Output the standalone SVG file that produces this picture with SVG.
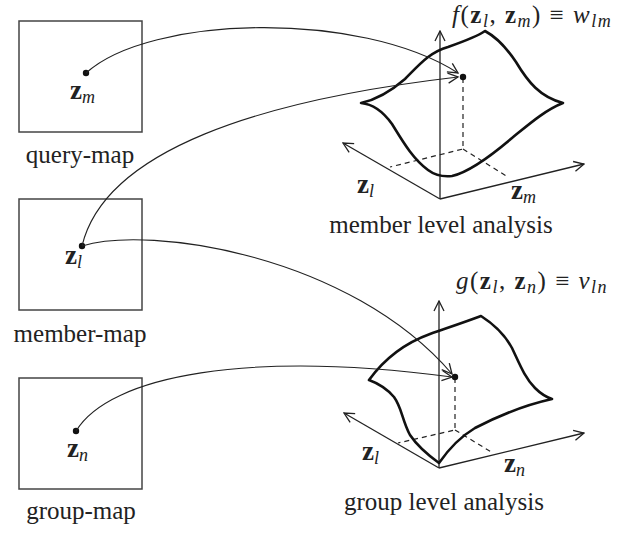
<svg xmlns="http://www.w3.org/2000/svg" width="631" height="534" viewBox="0 0 631 534">
<defs>
<style>
.box{fill:none;stroke:#444;stroke-width:1.5}
.lbl{font-family:"Liberation Serif",serif;font-size:25px;fill:#222}
.math{font-family:"Liberation Serif",serif;font-size:27px;fill:#222}
.fx{font-size:25px;letter-spacing:1.5px}
.bz{font-weight:bold}
.it{font-style:italic}
.sub{font-style:italic;font-size:18px}
.conn{fill:none;stroke:#222;stroke-width:1.1}
.axis{fill:none;stroke:#222;stroke-width:1.3}
.dash{fill:none;stroke:#222;stroke-width:1.2;stroke-dasharray:5,4}
.surf{fill:none;stroke:#111;stroke-width:2.6;stroke-linejoin:round}
</style>
<marker id="arr" viewBox="0 0 12 12" refX="11" refY="6" markerWidth="12" markerHeight="12" markerUnits="userSpaceOnUse" orient="auto">
<path d="M1,1 L11,6 L1,11" fill="none" stroke="#222" stroke-width="1.3"/>
</marker>
</defs>
<rect width="631" height="534" fill="#fff"/>

<g id="query-map">
<rect class="box" x="19" y="21" width="123" height="111"/>
<circle cx="86" cy="73" r="3.2" fill="#111"/>
<text class="math" x="70" y="99"><tspan class="bz">z</tspan><tspan class="sub" dy="4">m</tspan></text>
<text class="lbl" x="80" y="163" text-anchor="middle">query-map</text>
</g>

<g id="member-map">
<rect class="box" x="19" y="199" width="123" height="111"/>
<circle cx="82" cy="246" r="3.2" fill="#111"/>
<text class="math" x="65" y="264"><tspan class="bz">z</tspan><tspan class="sub" dy="4">l</tspan></text>
<text class="lbl" x="80" y="342" text-anchor="middle">member-map</text>
</g>

<g id="group-map">
<rect class="box" x="19" y="378" width="123" height="111"/>
<circle cx="76" cy="431" r="3.2" fill="#111"/>
<text class="math" x="67" y="457"><tspan class="bz">z</tspan><tspan class="sub" dy="4">n</tspan></text>
<text class="lbl" x="81" y="519" text-anchor="middle">group-map</text>
</g>

<g id="member-analysis">
<text class="math fx" x="452" y="23"><tspan class="it">f</tspan>(<tspan class="bz">z</tspan><tspan class="sub" dy="4">l</tspan><tspan dy="-4">, </tspan><tspan class="bz">z</tspan><tspan class="sub" dy="4">m</tspan><tspan dy="-4">) ≡ </tspan><tspan class="it">w</tspan><tspan class="sub" dy="4">lm</tspan></text>
<path class="axis" d="M440,199 L440,31" marker-end="url(#arr)"/>
<path class="axis" d="M440,199 L343,143" marker-end="url(#arr)"/>
<path class="axis" d="M440,199 L584,164" marker-end="url(#arr)"/>
<path class="dash" d="M463,78 L463,149 L390,167 M463,149 L508,177"/>
<path class="surf" d="M361,103 C375,100 390,92 405,79 C420,64 430,52 448,47 C465,41 478,36 485,31 C498,38 508,50 516,62 C528,82 540,97 563,103 C545,110 528,125 512,138 C492,155 470,172 452,176 C443,177 436,176 428,170 C412,158 402,140 392,124 C382,110 372,104 361,103 Z"/>
<circle cx="463" cy="77" r="3.2" fill="#111"/>
<text class="math" x="357" y="193"><tspan class="bz">z</tspan><tspan class="sub" dy="4">l</tspan></text>
<text class="math" x="511" y="199"><tspan class="bz">z</tspan><tspan class="sub" dy="4">m</tspan></text>
<text class="lbl" x="441" y="233" text-anchor="middle">member level analysis</text>
</g>

<g id="group-analysis">
<text class="math fx" x="456" y="289"><tspan class="it">g</tspan>(<tspan class="bz">z</tspan><tspan class="sub" dy="4">l</tspan><tspan dy="-4">, </tspan><tspan class="bz">z</tspan><tspan class="sub" dy="4">n</tspan><tspan dy="-4">) ≡ </tspan><tspan class="it">v</tspan><tspan class="sub" dy="4">ln</tspan></text>
<path class="axis" d="M439,468 L439,301" marker-end="url(#arr)"/>
<path class="axis" d="M439,468 L344,413" marker-end="url(#arr)"/>
<path class="axis" d="M439,468 L584,433" marker-end="url(#arr)"/>
<path class="dash" d="M455,378 L455,430 L398,443 M455,430 L493,453"/>
<path class="surf" d="M369,380 C385,358 405,343 430,334 C450,327 465,322 481,316 C495,325 505,335 512,348 C520,365 525,378 535,388 C540,393 546,397 552,399 C525,405 500,415 475,428 C460,437 448,450 439,463 C428,455 418,447 410,435 C402,420 402,408 394,397 C388,390 380,384 369,380 Z"/>
<circle cx="455" cy="377" r="3.2" fill="#111"/>
<text class="math" x="362" y="460"><tspan class="bz">z</tspan><tspan class="sub" dy="4">l</tspan></text>
<text class="math" x="504" y="472"><tspan class="bz">z</tspan><tspan class="sub" dy="4">n</tspan></text>
<text class="lbl" x="444" y="510" text-anchor="middle">group level analysis</text>
</g>

<g id="connectors">
<path class="conn" d="M86,73 C150,15 360,10 458,73" marker-end="url(#arr)"/>
<path class="conn" d="M82,246 C105,150 260,100 458,77" marker-end="url(#arr)"/>
<path class="conn" d="M82,246 C150,225 350,255 452,374" marker-end="url(#arr)"/>
<path class="conn" d="M76,431 C110,375 250,350 452,377" marker-end="url(#arr)"/>
</g>
</svg>
